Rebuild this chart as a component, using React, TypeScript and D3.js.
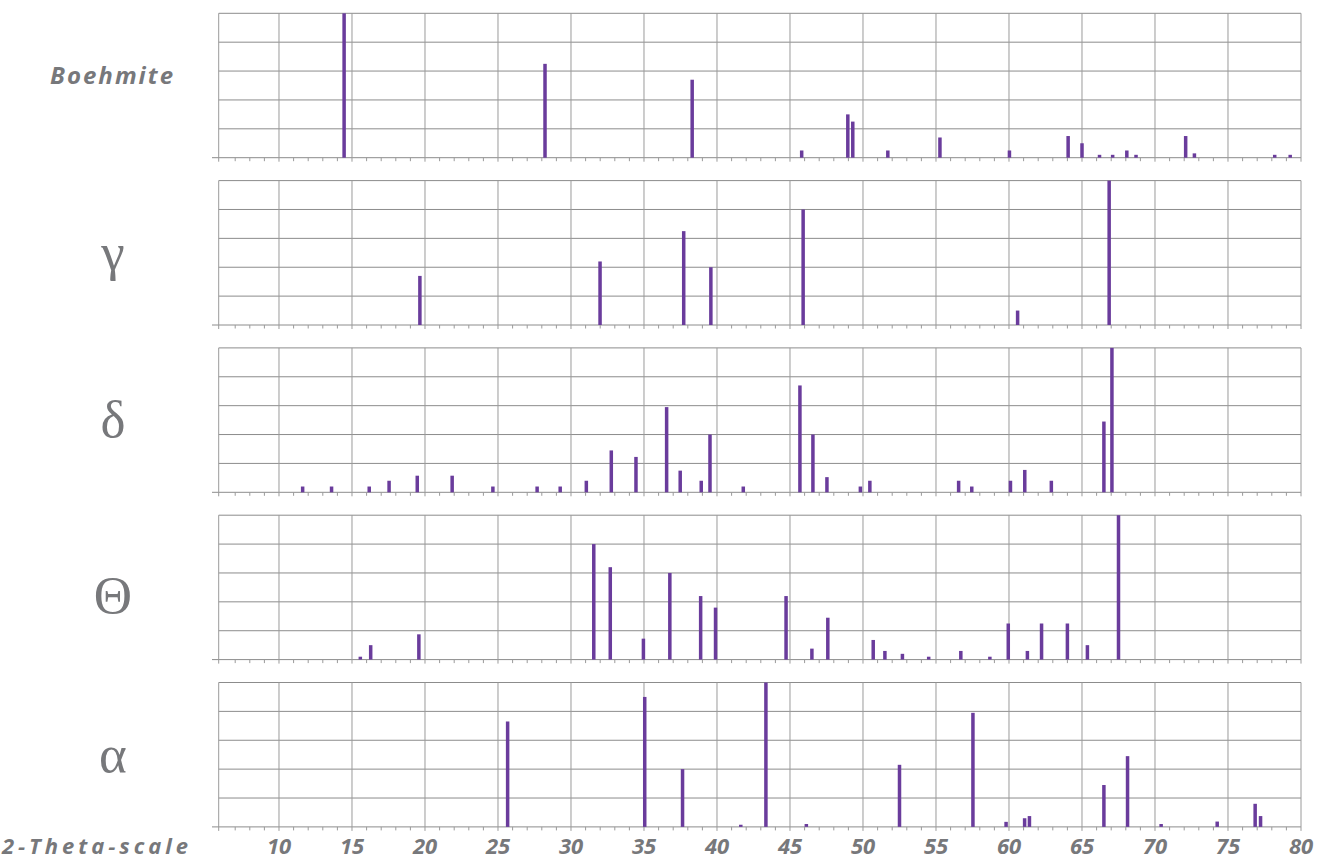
import React from 'react';
import * as d3 from 'd3';

// peak positions (2-theta) and relative intensities (% of strongest peak)
const boehmitePos = [14.46, 28.22, 38.3, 45.8, 48.96, 49.3, 51.7, 55.27, 60.03, 64.05, 65.0, 66.2, 67.1, 68.07, 68.7, 72.1, 72.7, 78.2, 79.26];
const boehmiteInt = [100, 65, 54, 5, 30, 25, 5, 14, 5, 15, 10, 2, 2, 5, 2, 15, 3, 2, 2];

const gammaPos = [19.65, 31.99, 37.72, 39.58, 45.9, 60.59, 66.86];
const gammaInt = [34, 44, 65, 40, 80, 10, 100];

const deltaPos = [11.62, 13.6, 16.18, 17.54, 19.47, 21.86, 24.65, 27.68, 29.26, 31.05, 32.76, 34.45, 36.55, 37.48, 38.92, 39.52, 41.8, 45.68, 46.57, 47.53, 49.82, 50.47, 56.55, 57.45, 60.1, 61.08, 62.9, 66.5, 67.05];
const deltaInt = [4, 4, 4, 8, 11.5, 11.5, 4, 4, 4, 8, 29, 24.5, 59, 15, 8, 40, 4, 74, 40, 10.5, 4, 8, 8, 4, 8, 15.5, 8, 49, 100];

const thetaPos = [15.57, 16.28, 19.58, 31.56, 32.69, 34.96, 36.77, 38.88, 39.9, 44.73, 46.5, 47.59, 50.7, 51.5, 52.7, 54.5, 56.7, 58.69, 59.95, 61.26, 62.23, 64.0, 65.37, 67.5];
const thetaInt = [2, 10, 17.5, 80, 64, 14.5, 60, 44, 36, 44, 7.6, 29, 13.6, 6, 4, 2, 6, 2, 25, 6, 25, 25, 10, 100];

const alphaPos = [25.66, 35.05, 37.64, 41.63, 43.35, 46.12, 52.5, 57.53, 59.8, 61.07, 61.4, 66.5, 68.12, 70.42, 74.26, 76.86, 77.23];
const alphaInt = [73, 90, 40, 1.5, 100, 2, 43, 79, 3.5, 6, 7.5, 29, 49, 2, 3.7, 16, 7.5];

const phaseNames = ['Boehmite', 'γ', 'δ', 'Θ', 'α'];
const phasePos = [boehmitePos, gammaPos, deltaPos, thetaPos, alphaPos];
const phaseInt = [boehmiteInt, gammaInt, deltaInt, thetaInt, alphaInt];

const xTicks = [10, 15, 20, 25, 30, 35, 40, 45, 50, 55, 60, 65, 70, 75, 80];
const yGrid = [0, 20, 40, 60, 80, 100];
const axisTitle = '2-Theta-scale';

const W = 1321;
const H = 859;
const barColor = '#6a3c9c';
const gridColor = '#9a9a9a';
const textColor = '#77787b';
const labelFont = "'Open Sans', sans-serif";

// small per-letter nudges so the glyphs sit where the reference has them
const greekDy = [0, 17, 17, 26, 17];

const App = () => {
  const left = 218.7;
  const right = 1301;
  const x = d3.scaleLinear().domain([5.87, 80]).range([left, right]);
  const panelTop = 13.3;
  const panelH = 144.4;
  const panelStep = 167.3;
  const minor = d3.range(7, 81).filter(v => v % 5 !== 0);

  return (
    <svg width={W} height={H} style={{ position: 'absolute', left: 0, top: 0, background: '#fff' }}>
      {phaseNames.map((name, i) => {
        const top = panelTop + i * panelStep;
        const bottom = top + panelH;
        const y = d3.scaleLinear().domain([0, 100]).range([bottom, top]);
        return (
          <g key={name}>
            {yGrid.map(g => (
              <line key={'h' + g} x1={g === 0 ? 212 : left} x2={right} y1={y(g)} y2={y(g)}
                stroke="#8c8c8c" strokeWidth={1} />
            ))}
            <line x1={left} x2={left} y1={top} y2={bottom + 4} stroke={gridColor} strokeWidth={1} />
            {xTicks.map(t => (
              <line key={'v' + t} x1={x(t)} x2={x(t)} y1={top} y2={bottom + 4} stroke={gridColor} strokeWidth={1} />
            ))}
            {minor.map(t => (
              <line key={'m' + t} x1={x(t)} x2={x(t)} y1={bottom} y2={bottom + 3.5} stroke={gridColor} strokeWidth={1} />
            ))}
            {phasePos[i].map((p, j) => (
              <rect key={'b' + j} x={x(p) - 1.75} width={3.5} y={y(phaseInt[i][j])}
                height={bottom - y(phaseInt[i][j])} fill={barColor} />
            ))}
            {i > 0 ? (
              <text x={113} y={top + panelH / 2 + greekDy[i]} textAnchor="middle"
                fontFamily="'Liberation Serif', 'DejaVu Serif', serif" fontSize={53} fill={textColor}>
                {name}
              </text>
            ) : (
              <text x={50} y={84} textLength={123} lengthAdjust="spacing"
                fontFamily={labelFont} fontWeight="bold" fontStyle="italic" fontSize={24} fill={textColor}>
                {name}
              </text>
            )}
          </g>
        );
      })}
      {xTicks.map(t => (
        <text key={'l' + t} x={x(t)} y={854} textAnchor="middle"
          fontFamily={labelFont} fontWeight="bold" fontStyle="italic" fontSize={22} fill={textColor}>
          {t}
        </text>
      ))}
      <text x={2} y={854} textLength={186} lengthAdjust="spacing"
        fontFamily={labelFont} fontWeight="bold" fontStyle="italic" fontSize={22} fill={textColor}>
        {axisTitle}
      </text>
    </svg>
  );
};

export default App;
